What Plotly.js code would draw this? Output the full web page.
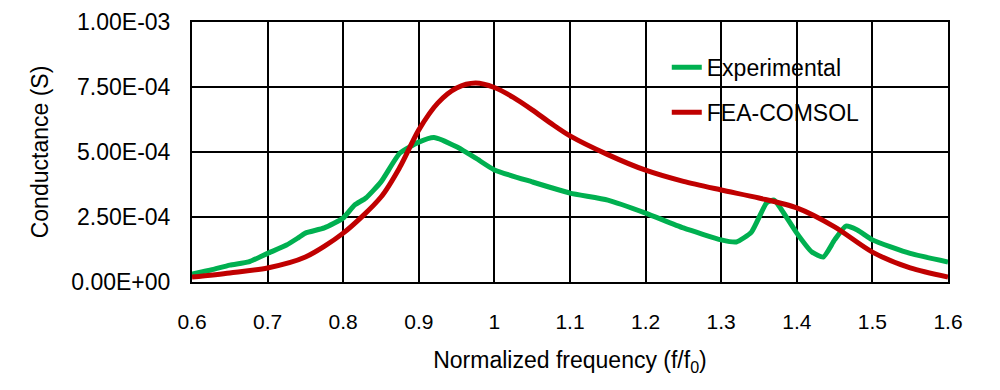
<!DOCTYPE html>
<html>
<head>
<meta charset="utf-8">
<script src="https://cdn.plot.ly/plotly-3.0.1.min.js"></script>
<style>html,body{margin:0;padding:0;background:#fff;}#chart{width:1000px;height:390px;}</style>
</head>
<body>
<div id="chart"></div>
<script>
const expX = [0.6,0.625,0.65,0.675,0.7,0.725,0.74,0.75,0.775,0.8,0.815,0.83,0.85,0.875,0.9,0.92,0.95,0.975,1.0,1.05,1.1,1.15,1.2,1.25,1.3,1.32,1.34,1.36,1.37,1.38,1.4,1.42,1.435,1.45,1.465,1.48,1.5,1.55,1.6];
const expY = [3.1e-5,4.6e-5,6.5e-5,7.7e-5,1.1e-4,1.42e-4,1.69e-4,1.88e-4,2.08e-4,2.46e-4,2.96e-4,3.23e-4,3.85e-4,4.96e-4,5.38e-4,5.56e-4,5.2e-4,4.77e-4,4.31e-4,3.85e-4,3.42e-4,3.15e-4,2.65e-4,2.08e-4,1.62e-4,1.54e-4,1.92e-4,3.04e-4,3.15e-4,2.77e-4,1.88e-4,1.15e-4,9.6e-5,1.62e-4,2.15e-4,2.0e-4,1.62e-4,1.1e-4,7.7e-5];
const feaX = [0.6,0.65,0.7,0.75,0.8,0.85,0.875,0.9,0.925,0.95,0.975,1.0,1.025,1.05,1.075,1.1,1.15,1.2,1.25,1.3,1.35,1.4,1.45,1.5,1.55,1.6];
const feaY = [1.9e-5,3.5e-5,5.4e-5,9.6e-5,1.88e-4,3.27e-4,4.42e-4,5.85e-4,6.88e-4,7.46e-4,7.65e-4,7.48e-4,7.1e-4,6.62e-4,6.1e-4,5.62e-4,4.9e-4,4.3e-4,3.87e-4,3.54e-4,3.23e-4,2.85e-4,2.12e-4,1.15e-4,5.4e-5,1.9e-5];
const yTickVals = [0,2.5e-4,5e-4,7.5e-4,1e-3];
const yTickText = ["0.00E+00","2.50E-04","5.00E-04","7.50E-04","1.00E-03"];
const xTickVals = [0.6,0.7,0.8,0.9,1.0,1.1,1.2,1.3,1.4,1.5,1.6];
const xTickText = ["0.6","0.7","0.8","0.9","1","1.1","1.2","1.3","1.4","1.5","1.6"];
const seriesNames = ["Experimental","FEA-COMSOL"];

const font = {family: "Liberation Sans, Arial, sans-serif", size: 23, color: "#000"};
const xfont = {family: "Liberation Sans, Arial, sans-serif", size: 21, color: "#000"};
const traces = [
  {x: expX, y: expY, name: seriesNames[0], type: "scatter", mode: "lines", legendgroup: "a",
   line: {color: "#00B050", width: 5, shape: "spline", smoothing: 0.5}},
  {x: feaX, y: feaY, name: seriesNames[1], type: "scatter", mode: "lines", legendgroup: "b",
   line: {color: "#C00000", width: 5, shape: "spline", smoothing: 0.8}}
];
const layout = {
  width: 1000, height: 390,
  margin: {l: 192, r: 52, t: 22, b: 108},
  paper_bgcolor: "#fff", plot_bgcolor: "#fff",
  font: font,
  showlegend: true,
  legend: {x: 0.628, y: 0.908, xanchor: "left", yanchor: "top", bgcolor: "rgba(0,0,0,0)",
    font: font, traceorder: "grouped", tracegroupgap: 12},
  xaxis: {range: [0.6, 1.6], tickvals: xTickVals, ticktext: xTickText,
    showgrid: true, gridcolor: "#000", gridwidth: 2, zeroline: false,
    showline: true, linecolor: "#000", linewidth: 2, mirror: true,
    ticks: "", ticklabelstandoff: 20, tickfont: xfont,
    title: {text: "Normalized frequency (f/f<sub>0</sub>)", font: font, standoff: 20}},
  yaxis: {range: [0, 1e-3], tickvals: yTickVals, ticktext: yTickText,
    showgrid: true, gridcolor: "#000", gridwidth: 2, zeroline: false,
    showline: true, linecolor: "#000", linewidth: 2, mirror: true,
    ticks: "", ticklabelstandoff: 15, tickfont: font,
    title: {text: "Conductance (S)", font: font, standoff: 16}}
};
Plotly.newPlot("chart", traces, layout, {displayModeBar: false, staticPlot: true});
</script>
</body>
</html>
